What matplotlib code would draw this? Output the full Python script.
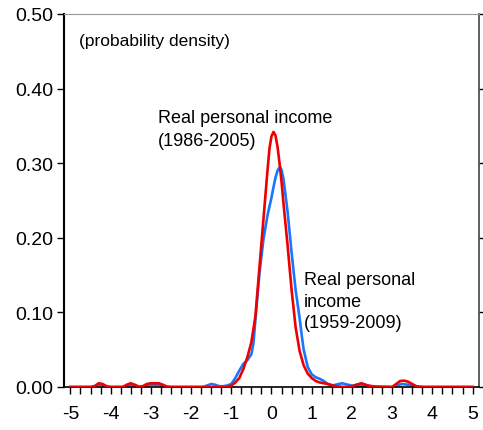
import matplotlib
matplotlib.use("Agg")
import matplotlib.pyplot as plt
from matplotlib.ticker import MultipleLocator

plt.rcParams["font.family"] = ["Liberation Sans", "DejaVu Sans"]

# Real personal income 1959-2009 (blue)
x_blue = [-5.0, -4.5, -4.4, -4.3, -4.2, -4.1, -3.7, -3.6, -3.5, -3.4, -3.3,
          -3.1, -3.0, -2.9, -2.8, -2.7, -2.5, -1.7, -1.6, -1.5, -1.4, -1.3,
          -1.2, -1.1, -1.0, -0.9, -0.8, -0.7, -0.6, -0.5, -0.45, -0.4, -0.3,
          -0.2, -0.1, 0.0, 0.05, 0.1, 0.15, 0.21, 0.25, 0.3, 0.4, 0.5, 0.6,
          0.7, 0.75, 0.8, 0.9, 1.0, 1.1, 1.2, 1.3, 1.4, 1.5, 1.6, 1.75, 1.9,
          2.0, 2.2, 2.5, 3.0, 3.1, 3.25, 3.4, 3.6, 3.8, 5.0]
y_blue = [0.0, 0.0, 0.001, 0.003, 0.002, 0.0, 0.0, 0.001, 0.003, 0.002, 0.0,
          0.002, 0.003, 0.003, 0.003, 0.001, 0.0, 0.0, 0.002, 0.004, 0.003, 0.001,
          0.001, 0.002, 0.004, 0.012, 0.022, 0.031, 0.036, 0.044, 0.058, 0.090, 0.152,
          0.198, 0.230, 0.254, 0.268, 0.281, 0.290, 0.295, 0.291, 0.278, 0.235, 0.180, 0.130,
          0.092, 0.070, 0.050, 0.027, 0.017, 0.013, 0.011, 0.008, 0.004, 0.002, 0.003, 0.005, 0.003,
          0.002, 0.002, 0.001, 0.0, 0.002, 0.004, 0.003, 0.001, 0.0, 0.0]

# Real personal income 1986-2005 (red)
x_red = [-5.0, -4.5, -4.4, -4.3, -4.2, -4.1, -4.0, -3.7, -3.6, -3.5, -3.4,
         -3.3, -3.2, -3.1, -3.0, -2.9, -2.8, -2.7, -2.6, -2.5, -1.1, -1.0,
         -0.9, -0.8, -0.7, -0.6, -0.5, -0.4, -0.3, -0.2, -0.1, -0.05, 0.0,
         0.05, 0.1, 0.15, 0.2, 0.25, 0.3, 0.4, 0.5, 0.6, 0.7, 0.8, 0.9, 1.0,
         1.1, 1.2, 1.4, 1.6, 1.8, 2.0, 2.1, 2.24, 2.4, 2.6, 3.0, 3.1, 3.2,
         3.3, 3.4, 3.5, 3.6, 3.7, 5.0]
y_red = [0.0, 0.0, 0.001, 0.005, 0.004, 0.001, 0.0, 0.0, 0.003, 0.005, 0.003,
         0.0005, 0.001, 0.004, 0.005, 0.005, 0.005, 0.003, 0.0005, 0.0, 0.0, 0.002,
         0.006, 0.012, 0.024, 0.040, 0.060, 0.095, 0.160, 0.225, 0.290, 0.320, 0.336,
         0.342, 0.337, 0.322, 0.300, 0.275, 0.245, 0.190, 0.130, 0.080, 0.048, 0.029, 0.018, 0.012,
         0.008, 0.006, 0.004, 0.001, 0.0, 0.0005, 0.003, 0.005, 0.002, 0.0, 0.0, 0.004, 0.008,
         0.0085, 0.007, 0.004, 0.001, 0.0, 0.0]

xtick_vals = [-5, -4, -3, -2, -1, 0, 1, 2, 3, 4, 5]
ytick_vals = [0.0, 0.1, 0.2, 0.3, 0.4, 0.5]

fig = plt.figure(figsize=(4.83, 4.31), dpi=100)
ax = fig.add_axes([0.1325, 0.0998, 0.8592, 0.8654])

ax.plot(x_blue, y_blue, color="#1a75ff", lw=1.9, zorder=2)
ax.plot(x_red, y_red, color="#ee0000", lw=1.9, zorder=3)

ax.set_xlim(-5.16, 5.16)
ax.set_ylim(0, 0.5)
ax.set_xticks(xtick_vals)
ax.set_xticklabels([str(v) for v in xtick_vals])
ax.xaxis.set_minor_locator(MultipleLocator(0.25))
ax.set_yticks(ytick_vals)
ax.set_yticklabels(["%.2f" % v for v in ytick_vals])

ax.tick_params(axis="x", which="both", direction="out", length=5, width=1,
               labelsize=14, pad=8)
ax.tick_params(axis="y", direction="out", length=5, width=1, right=True,
               labelsize=14, pad=3)

ax.spines["left"].set_linewidth(1.5)
ax.spines["bottom"].set_linewidth(1.2)
ax.spines["right"].set_color("#444444")
ax.spines["right"].set_linewidth(1.2)
ax.spines["top"].set_color("#999999")

ax.text(-4.79, 0.464, "(probability density)", fontsize=12.5, va="center")
ax.text(-2.82, 0.372, "Real personal income\n(1986-2005)", fontsize=13,
        va="top", linespacing=1.45)
ax.text(0.81, 0.155, "Real personal\nincome\n(1959-2009)", fontsize=13,
        va="top", linespacing=1.35)

fig.savefig("out.png", dpi=100)
